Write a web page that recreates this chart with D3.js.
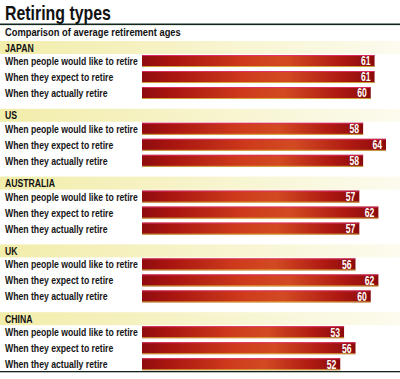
<!DOCTYPE html>
<html><head><meta charset="utf-8">
<script src="https://cdn.jsdelivr.net/npm/d3@7"></script>
<style>
html,body{margin:0;padding:0;background:#fff;}
svg{display:block;}
text{font-family:"Liberation Sans Narrow","Arial Narrow","Liberation Sans",Arial,sans-serif;}
</style></head>
<body><svg id="c" width="400" height="379"></svg>
<script>
const title = "Retiring types";
const subtitle = "Comparison of average retirement ages";
const countries = ["JAPAN", "US", "AUSTRALIA", "UK", "CHINA"];
const rowLabels = ["When people would like to retire", "When they expect to retire", "When they actually retire"];
const likeToRetire = [61, 58, 57, 56, 53];
const expectToRetire = [61, 64, 62, 62, 56];
const actuallyRetire = [60, 58, 57, 60, 52];
const series = [likeToRetire, expectToRetire, actuallyRetire];

const svg = d3.select("#c");
const W = 400;

const defs = svg.append("defs");
const bg = defs.append("linearGradient").attr("id", "barGrad").attr("x1", "0").attr("x2", "1").attr("y1", "0").attr("y2", "0");
[[0, "#8f0c10"], [0.12, "#a8140f"], [0.45, "#cf3c1c"], [0.62, "#d24a22"], [0.85, "#b01a12"], [1, "#8a0a0c"]]
  .forEach(([o, c]) => bg.append("stop").attr("offset", o).attr("stop-color", c));
const band = defs.append("linearGradient").attr("id", "bandGrad").attr("x1", "0").attr("x2", "1");
[[0, "#f2edaa"], [0.4, "#f6f2c4"], [1, "#fcfbee"]]
  .forEach(([o, c]) => band.append("stop").attr("offset", o).attr("stop-color", c));

// scales
const x = d3.scaleLinear().domain([0, 64]).range([142, 386]);
const gy = d3.scaleLinear().domain([0, countries.length]).range([41, 41 + 67.8 * countries.length]);
const ry = d3.scaleBand().domain(d3.range(3)).range([14, 58]).paddingInner(0.25).paddingOuter(0);

function condense(sel, targetW) {
  return targetW / sel.node().getComputedTextLength();
}

// title
const t = svg.append("text").attr("font-size", 21).attr("font-weight", "bold").attr("fill", "#111").text(title);
const kt = condense(t, 106);
t.attr("transform", `translate(5,20) scale(${kt},1)`);
svg.append("rect").attr("x", 0).attr("y", 23.5).attr("width", W).attr("height", 1.6).attr("fill", "#10261a");

const st = svg.append("text").attr("font-size", 10.5).attr("font-weight", "bold").attr("fill", "#111").text(subtitle);
const ks = condense(st, 176);
st.attr("transform", `translate(5,36) scale(${ks},1)`);

// measure label factor
const probe = svg.append("text").attr("font-size", 11).attr("font-weight", "bold").text(rowLabels[0]);
const kl = condense(probe, 133);
probe.remove();

const groups = svg.selectAll("g.grp").data(countries).join("g").attr("class", "grp")
  .attr("transform", (d, i) => `translate(0,${gy(i)})`);

groups.append("rect").attr("x", 0).attr("y", 0).attr("width", W).attr("height", 13).attr("fill", "url(#bandGrad)");
groups.append("text").attr("font-size", 11).attr("font-weight", "bold").attr("fill", "#111")
  .attr("transform", `translate(5,10.5) scale(${kl},1)`).text(d => d);

groups.each(function (c, gi) {
  const g = d3.select(this);
  const rows = g.selectAll("g.row").data(series.map((s, si) => ({ si, v: s[gi] }))).join("g").attr("class", "row")
    .attr("transform", d => `translate(0,${ry(d.si)})`);
  const h = ry.bandwidth();
  rows.append("text").attr("font-size", 11).attr("font-weight", "bold").attr("fill", "#151515")
    .attr("transform", `translate(5,${h / 2 + 4}) scale(${kl},1)`).text(d => rowLabels[d.si]);
  rows.append("rect").attr("x", x(0)).attr("y", 0).attr("width", d => x(d.v) - x(0)).attr("height", h).attr("fill", "url(#barGrad)");
  rows.append("rect").attr("x", x(0)).attr("y", 0).attr("width", d => x(d.v) - x(0)).attr("height", 1).attr("fill", "#e0306e").attr("opacity", 0.85);
  rows.append("rect").attr("x", x(0)).attr("y", h - 1).attr("width", d => x(d.v) - x(0)).attr("height", 1).attr("fill", "#d8c840").attr("opacity", 0.8);
  rows.append("text").attr("font-size", 12).attr("font-weight", "bold").attr("fill", "#fff").attr("text-anchor", "end")
    .attr("transform", d => `translate(${x(d.v) - 4},${h / 2 + 4.3}) scale(0.72,1)`).text(d => d.v);
});

svg.append("rect").attr("x", 0).attr("y", 371).attr("width", W).attr("height", 1.3).attr("fill", "#10261a");
</script></body></html>
